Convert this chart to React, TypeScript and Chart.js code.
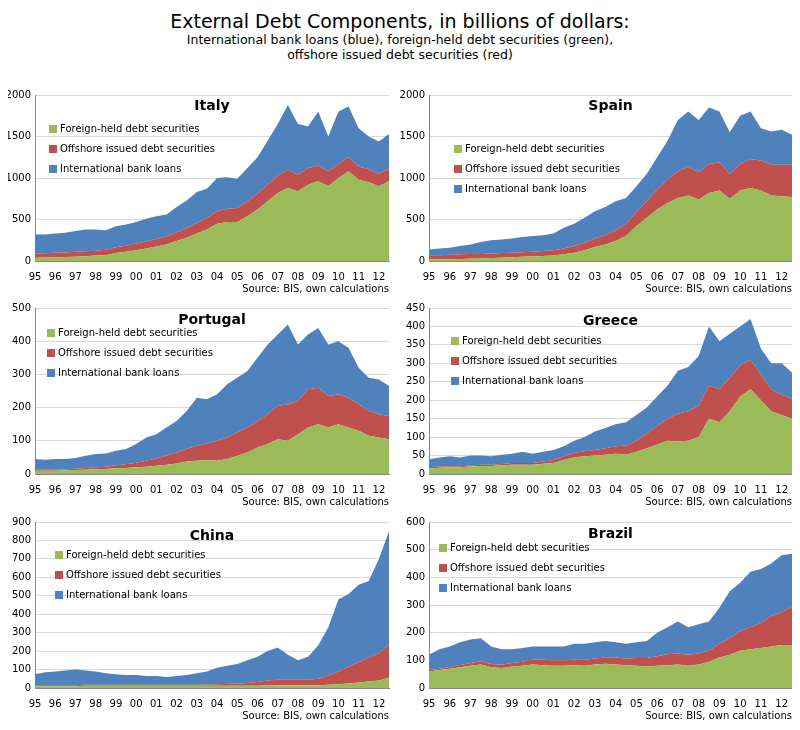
import React, { useEffect, useRef } from "react";
import { Chart, registerables } from "chart.js";
Chart.register(...registerables);

const years = ["95","96","97","98","99","00","01","02","03","04","05","06","07","08","09","10","11","12"];
const labels: string[] = years.flatMap((y) => [y, ""]);

const italyForeign = [40,42,45,48,52,58,65,70,95,110,130,150,175,200,240,280,330,380,450,470,470,540,620,720,820,880,840,920,960,900,1000,1080,980,950,900,960];
const italyOffshore = [50,52,55,55,58,60,60,65,70,75,80,85,90,95,105,115,125,140,150,160,170,180,190,200,210,220,200,200,190,180,170,170,160,155,150,150];
const italyBank = [230,226,230,237,250,262,255,235,255,255,260,275,275,265,305,335,375,350,400,380,350,400,440,530,620,780,610,500,650,420,630,610,460,395,390,420];

const spainForeign = [20,20,22,25,28,30,35,40,45,50,55,60,65,80,100,130,170,200,240,300,420,520,620,700,760,790,740,820,850,750,850,880,850,790,780,770];
const spainOffshore = [50,50,52,55,55,55,55,55,55,55,55,60,65,70,80,90,100,110,130,150,170,200,240,280,320,350,330,350,340,300,320,350,360,370,380,390];
const spainBank = [70,80,86,100,117,145,160,165,170,185,190,190,200,250,270,300,330,340,350,310,310,330,390,470,620,660,630,680,610,500,580,570,390,400,420,360];

const portugalForeign = [10,10,10,11,12,13,14,15,17,18,20,22,25,28,32,38,40,42,40,45,55,65,80,90,105,100,120,140,150,140,150,140,130,115,110,105];
const portugalOffshore = [3,3,3,3,4,5,6,7,9,11,14,18,22,28,32,38,45,50,60,65,70,75,80,90,100,110,100,115,110,95,90,90,80,75,70,70];
const portugalBank = [32,30,32,31,32,37,40,40,44,46,56,70,73,84,96,114,145,133,140,160,165,170,190,210,215,240,170,165,180,155,160,150,110,100,105,90];

const greeceForeign = [15,17,18,18,20,22,22,24,25,25,25,28,30,38,45,48,50,52,55,52,60,70,80,90,88,90,100,150,140,170,210,230,200,170,160,150];
const greeceOffshore = [3,3,3,3,3,3,3,3,5,5,5,6,8,10,12,14,15,18,20,25,30,40,50,60,75,80,85,90,90,90,85,80,70,60,55,55];
const greeceBank = [22,25,27,24,27,25,23,25,25,30,25,26,27,27,33,38,50,55,60,63,70,70,80,90,117,120,135,160,130,120,105,110,70,70,85,70];

const chinaForeign = [10,10,10,10,10,12,12,12,12,12,12,12,12,12,12,12,12,12,12,12,12,12,12,15,15,15,15,15,15,18,20,25,30,35,40,55];
const chinaOffshore = [5,5,5,5,5,5,5,5,5,5,5,5,5,5,5,5,6,7,8,10,12,15,20,25,30,30,30,30,35,50,70,90,110,130,150,180];
const chinaBank = [60,70,75,80,85,78,73,63,58,53,53,48,48,43,48,53,62,71,90,98,106,123,138,160,175,135,105,125,180,262,390,395,420,415,510,615];

const brazilForeign = [60,65,70,75,80,85,75,72,78,80,85,82,80,80,82,80,85,88,85,82,80,78,80,82,85,80,85,95,110,120,135,140,145,150,155,155];
const brazilOffshore = [5,5,6,8,10,12,12,12,12,15,18,20,20,20,20,22,22,22,25,25,28,30,35,40,40,40,40,40,50,60,70,80,90,110,120,140];
const brazilBank = [55,70,74,82,85,83,63,56,50,50,47,48,50,50,58,58,58,60,55,53,57,62,85,98,115,100,105,105,130,170,175,200,195,190,205,190];

const GREEN = "#9BBB59", RED = "#C0504D", BLUE = "#4F81BD";
const FONT = "'DejaVu Sans', Verdana, sans-serif";

type P = { name: string; f: number[]; o: number[]; b: number[]; max: number; step: number; left: boolean;
  lx: number; ly: number; ty: number };

const panels: P[] = [
  { name: "Italy", f: italyForeign, o: italyOffshore, b: italyBank, max: 2000, step: 500, left: true, lx: 14, ly: 34, ty: 11 },
  { name: "Spain", f: spainForeign, o: spainOffshore, b: spainBank, max: 2000, step: 500, left: false, lx: 25, ly: 54, ty: 11 },
  { name: "Portugal", f: portugalForeign, o: portugalOffshore, b: portugalBank, max: 500, step: 100, left: true, lx: 12, ly: 25, ty: 12 },
  { name: "Greece", f: greeceForeign, o: greeceOffshore, b: greeceBank, max: 450, step: 50, left: false, lx: 22, ly: 33, ty: 13 },
  { name: "China", f: chinaForeign, o: chinaOffshore, b: chinaBank, max: 900, step: 100, left: true, lx: 20, ly: 33, ty: 14 },
  { name: "Brazil", f: brazilForeign, o: brazilOffshore, b: brazilBank, max: 600, step: 100, left: false, lx: 10, ly: 26, ty: 12 },
];

function Panel({ p, x, y }: { p: P; x: number; y: number }) {
  const ref = useRef<HTMLCanvasElement>(null);
  useEffect(() => {
    const deco = {
      id: "deco",
      afterDraw(c: any) {
        const ctx = c.ctx, a = c.chartArea;
        ctx.save();
        ctx.fillStyle = "#000";
        ctx.font = `bold 14px ${FONT}`;
        ctx.textAlign = "center";
        ctx.textBaseline = "middle";
        ctx.fillText(p.name, (a.left + a.right) / 2, a.top + p.ty);
        ctx.font = `10px ${FONT}`;
        ctx.textAlign = "left";
        const items: [string, string][] = [["Foreign-held debt securities", GREEN], ["Offshore issued debt securities", RED], ["International bank loans", BLUE]];
        items.forEach(([t, col], i) => {
          const yy = a.top + p.ly + i * 20;
          ctx.fillStyle = col;
          ctx.fillRect(a.left + p.lx, yy - 4, 8, 8);
          ctx.fillStyle = "#000";
          ctx.fillText(t, a.left + p.lx + 11, yy);
        });
        ctx.textAlign = "right";
        ctx.textBaseline = "bottom";
        ctx.fillText("Source: BIS, own calculations", a.right, c.height - 1);
        ctx.restore();
      },
    };
    const ds = (label: string, data: number[], col: string, fill: any) => ({
      label, data, backgroundColor: col, borderColor: col, borderWidth: 0, pointRadius: 0, fill, tension: 0,
    });
    const chart = new Chart(ref.current!, {
      type: "line",
      data: {
        labels,
        datasets: [
          ds("Foreign-held debt securities", p.f, GREEN, "origin"),
          ds("Offshore issued debt securities", p.o, RED, "-1"),
          ds("International bank loans", p.b, BLUE, "-1"),
        ],
      },
      options: {
        animation: false,
        responsive: false,
        layout: { padding: { top: 7, right: 8, bottom: 10, left: 0 } },
        plugins: { legend: { display: false }, tooltip: { enabled: false } },
        scales: {
          x: {
            offset: false,
            grid: { display: false },
            border: { color: "#888" },
            ticks: { autoSkip: false, maxRotation: 0, font: { family: FONT, size: 10 }, color: "#000", padding: 2 },
          },
          y: {
            stacked: true, min: 0, max: p.max,
            afterFit: (s: any) => { s.width = p.left ? 35 : 29; },
            grid: { color: "#d9d9d9", drawTicks: false },
            border: { color: "#888" },
            ticks: { stepSize: p.step, font: { family: FONT, size: 10 }, color: "#000", padding: 4,
              callback: (v: any) => String(v) },
          },
        },
      },
      plugins: [deco],
    });
    return () => chart.destroy();
  }, []);
  return <canvas ref={ref} width={p.left ? 397 : 400} height={210}
    style={{ position: "absolute", left: x, top: y, width: p.left ? 397 : 400, height: 210 }} />;
}

export default function App() {
  const tops = [85, 298, 512];
  return (
    <div style={{ position: "relative", width: 800, height: 730, margin: -8, background: "#fff", fontFamily: FONT }}>
      <div style={{ position: "absolute", top: 10, left: 0, width: 800, textAlign: "center", color: "#000" }}>
        <div style={{ fontSize: 19 }}>External Debt Components, in billions of dollars:</div>
        <div style={{ fontSize: 12.5, lineHeight: "15px" }}>International bank loans (blue), foreign-held debt securities (green),<br />offshore issued debt securities (red)</div>
      </div>
      {panels.map((p, i) => (
        <Panel key={p.name} p={p} x={p.left ? 0 : 400} y={tops[Math.floor(i / 2)]} />
      ))}
    </div>
  );
}
